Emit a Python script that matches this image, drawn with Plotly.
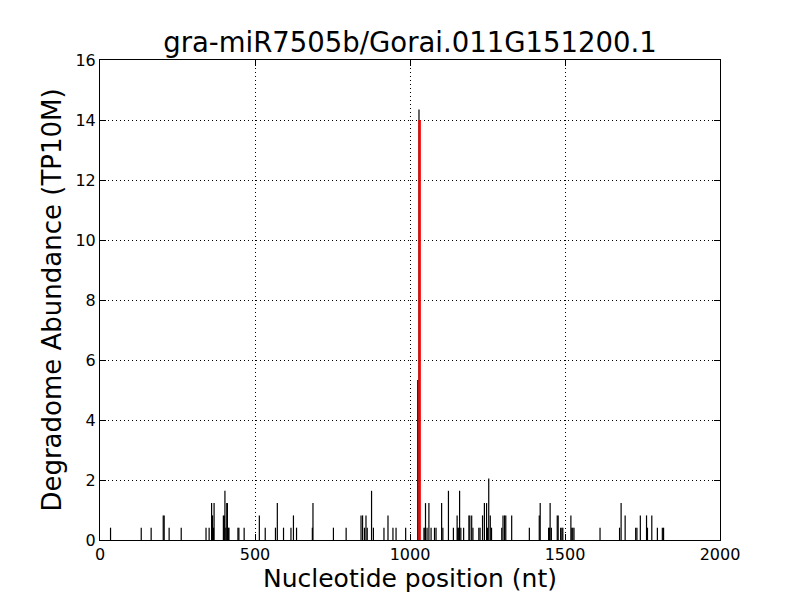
import plotly.graph_objects as go

UNIT = 0.41
positions = [34, 133, 165, 204, 207, 223, 262, 342, 352, 360, 363, 366, 368,
             398, 401, 403, 406, 409, 411, 414, 416, 445, 448, 465, 514, 533,
             566, 572, 592, 616, 624, 634, 685, 687, 753, 794, 842, 847, 853,
             858, 862, 876, 882, 916, 929, 945, 955, 986, 1025, 1029,
             1045, 1048, 1050, 1055, 1061, 1068, 1079, 1084, 1102, 1106, 1124,
             1140, 1152, 1154, 1157, 1160, 1164, 1173, 1190, 1193, 1199, 1203,
             1222, 1226, 1234, 1240, 1247, 1250, 1254, 1259, 1263, 1296, 1300,
             1305, 1309, 1328, 1385, 1417, 1420, 1447, 1450, 1452, 1456, 1475,
             1478, 1486, 1490, 1493, 1519, 1522, 1525, 1529, 1613, 1676, 1681,
             1694, 1728, 1732, 1743, 1763, 1766, 1780, 1798, 1814, 1818]
counts = [1, 1, 1, 2, 2, 1, 1, 1, 1, 3, 2, 1, 3,
          2, 2, 4, 1, 3, 3, 1, 1, 1, 1, 1, 2, 1,
          1, 3, 1, 1, 2, 1, 1, 3, 1, 1, 2, 2, 1,
          2, 1, 4, 1, 1, 2, 1, 1, 1, 13, 35,
          1, 1, 3, 1, 3, 1, 1, 1, 3, 1, 4,
          1, 2, 1, 1, 4, 1, 1, 2, 2, 2, 1,
          1, 1, 2, 3, 3, 1, 5, 2, 1, 1, 2,
          2, 2, 2, 1, 2, 3, 1, 1, 3, 1, 2,
          2, 1, 1, 1, 2, 1, 1, 1, 1, 1, 3,
          2, 1, 1, 2, 2, 1, 2, 1, 1, 1]
abundance = [c * UNIT for c in counts]

target_pos = [1031]
target_val = [14.0]

title = "gra-miR7505b/Gorai.011G151200.1"
x_ticks = [0, 500, 1000, 1500, 2000]
y_ticks = [0, 2, 4, 6, 8, 10, 12, 14, 16]

def stems(xs, ys):
    sx, sy = [], []
    for x, y in zip(xs, ys):
        sx += [x, x, None]
        sy += [0, y, None]
    return sx, sy

bx, by = stems(positions, abundance)
rx, ry = stems(target_pos, target_val)

fig = go.Figure()
fig.add_trace(go.Scatter(x=bx, y=by, mode="lines",
                         line=dict(color="black", width=1.2), hoverinfo="skip"))
fig.add_trace(go.Scatter(x=rx, y=ry, mode="lines",
                         line=dict(color="red", width=2.5), hoverinfo="skip"))

axis_common = dict(
    showline=True, linecolor="black", linewidth=1, mirror="ticks",
    ticks="inside", ticklen=6, tickcolor="black",
    showgrid=True, gridcolor="black", griddash="1px,3px", gridwidth=1,
    zeroline=False, tickfont=dict(size=16, color="black"), automargin=False,
)

fig.update_layout(
    width=800, height=600,
    margin=dict(l=100, r=80, t=60, b=60),
    paper_bgcolor="white", plot_bgcolor="white",
    font=dict(family="DejaVu Sans", color="black"),
    showlegend=False,
    title=dict(text=title, x=0.5125, xanchor="center", y=0.93, yanchor="middle",
               font=dict(size=27.5)),
    xaxis=dict(range=[0, 2000], tickvals=x_ticks,
               title=dict(text="Nucleotide position (nt)", font=dict(size=25), standoff=6),
               **axis_common),
    yaxis=dict(range=[0, 16], tickvals=y_ticks,
               title=dict(text="Degradome Abundance (TP10M)", font=dict(size=26), standoff=6),
               **axis_common),
)

fig.write_html("out.html", config={"displayModeBar": False},
               post_script="document.body.style.margin='0';")
